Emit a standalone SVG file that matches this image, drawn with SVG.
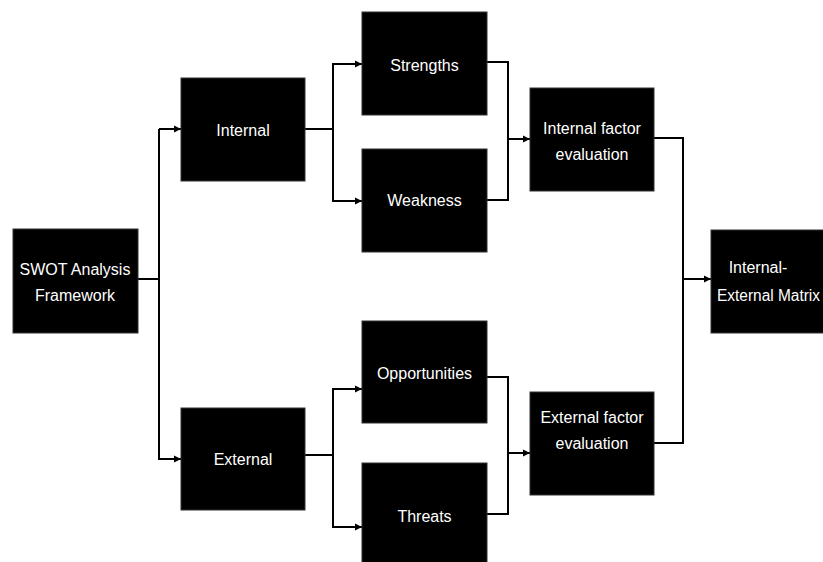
<svg xmlns="http://www.w3.org/2000/svg" width="823" height="562" viewBox="0 0 823 562">
<defs>
<marker id="ah" markerWidth="8" markerHeight="8" refX="7" refY="4" orient="auto" markerUnits="userSpaceOnUse">
<path d="M0,0.5 L7,4 L0,7.5 Z" fill="#000"/>
</marker>
<style>
.box{fill:#000;stroke:#333;stroke-width:1}
.t{font-family:"Liberation Sans",Arial,sans-serif;font-size:16px;fill:#fff;text-anchor:middle}
.c{fill:none;stroke:#000;stroke-width:2}
.a{marker-end:url(#ah)}
</style>
</defs>
<rect width="823" height="562" fill="#fff"/>
<g id="connectors">
<path class="c" d="M138,279 H159 V129"/>
<path class="c a" d="M159,129 H181"/>
<path class="c a" d="M159,279 V459 H181"/>
<path class="c" d="M305,129 H333"/>
<path class="c a" d="M333,129 V64 H362"/>
<path class="c a" d="M333,129 V201 H362"/>
<path class="c" d="M305,455 H333"/>
<path class="c a" d="M333,455 V389 H362"/>
<path class="c a" d="M333,455 V527 H362"/>
<path class="c" d="M487,62 H508 V200 H487"/>
<path class="c a" d="M508,139 H530"/>
<path class="c" d="M487,377 H508 V514 H487"/>
<path class="c a" d="M508,453 H530"/>
<path class="c" d="M654,138 H683 V443 H654"/>
<path class="c a" d="M683,279 H711"/>
</g>
<g id="swot"><rect class="box" x="13" y="229" width="125" height="104"/><text class="t" x="75" y="275">SWOT Analysis</text><text class="t" x="75" y="301">Framework</text></g>
<g id="internal"><rect class="box" x="181" y="78" width="124" height="103"/><text class="t" x="243" y="136">Internal</text></g>
<g id="external"><rect class="box" x="181" y="408" width="124" height="102"/><text class="t" x="243" y="465">External</text></g>
<g id="strengths"><rect class="box" x="362" y="12" width="125" height="103"/><text class="t" x="424.5" y="71">Strengths</text></g>
<g id="weakness"><rect class="box" x="362" y="149" width="125" height="103"/><text class="t" x="424.5" y="206">Weakness</text></g>
<g id="opportunities"><rect class="box" x="362" y="321" width="125" height="102"/><text class="t" x="424.5" y="379">Opportunities</text></g>
<g id="threats"><rect class="box" x="362" y="463" width="125" height="105"/><text class="t" x="424.5" y="522">Threats</text></g>
<g id="ife"><rect class="box" x="530" y="88" width="124" height="103"/><text class="t" x="592" y="134">Internal factor</text><text class="t" x="592" y="160">evaluation</text></g>
<g id="efe"><rect class="box" x="530" y="392" width="124" height="103"/><text class="t" x="592" y="423">External factor</text><text class="t" x="592" y="449">evaluation</text></g>
<g id="iem"><rect class="box" x="711" y="230" width="125" height="103"/><text class="t" x="758" y="273">Internal-</text><text class="t" x="717" y="301" style="text-anchor:start" textLength="103" lengthAdjust="spacingAndGlyphs">External Matrix</text></g>
</svg>
